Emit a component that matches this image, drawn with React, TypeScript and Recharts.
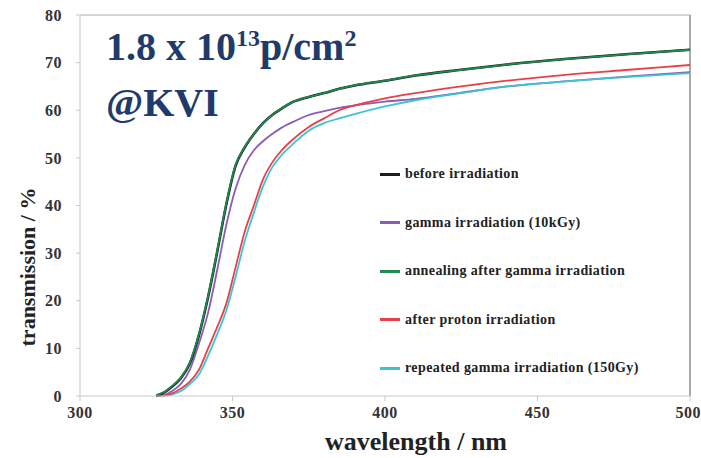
import React from "react";
import { LineChart, Line, XAxis, YAxis, ReferenceLine } from "recharts";

// wavelength grid (nm) shared by all curves
const wavelength = [325, 328, 330, 333, 336, 339, 342, 345, 348, 351, 354, 357, 360, 363, 366, 370, 375, 380, 385, 390, 400, 410, 425, 440, 460, 480, 500];

// transmission (%) per curve
const beforeIrradiation = [0, 0.9, 1.9, 3.7, 6.8, 12.8, 20.8, 30.3, 40.3, 48.3, 52.2, 55, 57.3, 59, 60.3, 61.8, 62.8, 63.6, 64.5, 65.2, 66.2, 67.3, 68.5, 69.6, 70.8, 71.8, 72.7];
const gammaIrradiation = [0, 0.3, 1, 2.5, 5.5, 11, 17.5, 26.5, 36, 43.5, 48.5, 51.6, 53.5, 55, 56.3, 57.6, 59, 59.8, 60.5, 61, 61.8, 62.4, 63.7, 65, 66.1, 67.1, 68];
const annealing = [0.2, 1, 2, 3.8, 7, 13, 21, 30.5, 40.5, 48.5, 52.3, 55, 57.3, 59, 60.3, 61.8, 62.8, 63.6, 64.5, 65.2, 66.2, 67.3, 68.5, 69.6, 70.8, 71.8, 72.7];
const afterProton = [0, 0.2, 0.5, 1.5, 3, 5.5, 10, 14.5, 19.5, 27, 34.5, 40, 45.5, 49, 51.5, 54, 56.5, 58.3, 60, 61, 62.5, 63.6, 65, 66.2, 67.5, 68.5, 69.5];
const repeatedGamma = [0, 0.1, 0.3, 1, 2.5, 4.5, 8.5, 13, 18, 25, 32.5, 38.5, 44, 48, 50.5, 53, 55.7, 57.3, 58.3, 59.2, 60.8, 62.1, 63.6, 65, 66.1, 67, 67.8];

const xTicks = [300, 350, 400, 450, 500];
const yTicks = [0, 10, 20, 30, 40, 50, 60, 70, 80];

const SERIES = [
  { key: "before", name: "before irradiation", color: "#1c1c1c" },
  { key: "gamma", name: "gamma irradiation (10kGy)", color: "#8a5cb8" },
  { key: "anneal", name: "annealing after gamma irradiation", color: "#1f8a4e" },
  { key: "proton", name: "after proton irradiation", color: "#e8404a" },
  { key: "repeat", name: "repeated gamma irradiation (150Gy)", color: "#3cc4d4" },
];

// draw order: cyan/red over purple, green over black
const DRAW_ORDER = ["gamma", "repeat", "proton", "before", "anneal"];

const data = wavelength.map((w, i) => ({
  w,
  before: beforeIrradiation[i],
  gamma: gammaIrradiation[i],
  anneal: annealing[i],
  proton: afterProton[i],
  repeat: repeatedGamma[i],
}));

const FONT = '"Liberation Serif", "Times New Roman", serif';

function LegendBox() {
  return (
    <div
      style={{
        position: "absolute",
        left: 380,
        top: 150,
        fontFamily: FONT,
        fontWeight: "bold",
        fontSize: 14,
        letterSpacing: 0.4,
        color: "#222",
      }}
    >
      {SERIES.map((s) => (
        <div key={s.key} style={{ display: "flex", alignItems: "center", height: 48.5, whiteSpace: "nowrap" }}>
          <span style={{ display: "inline-block", width: 20, height: 3, background: s.color, marginRight: 5 }} />
          <span>{s.name}</span>
        </div>
      ))}
    </div>
  );
}

export default function App() {
  const tickStyle = { fontSize: 16, fill: "#333", fontFamily: FONT, fontWeight: "bold", letterSpacing: 0.5 };
  const supStyle = { fontSize: 24, verticalAlign: "14px", lineHeight: 0 };
  return (
    <div style={{ position: "absolute", left: 0, top: 0, width: 701, height: 458, background: "#fff" }}>
      <LineChart width={701} height={458} data={data} margin={{ top: 15, right: 11, bottom: 22, left: 30 }}>
        <XAxis
          dataKey="w"
          type="number"
          domain={[300, 500]}
          ticks={xTicks}
          height={40}
          tick={tickStyle}
          tickSize={5}
          tickMargin={6}
          stroke="#c8c8c8"
          allowDataOverflow
        />
        <YAxis
          type="number"
          domain={[0, 80]}
          ticks={yTicks}
          width={50}
          tick={tickStyle}
          tickSize={4}
          tickMargin={14}
          stroke="#c8c8c8"
        />
        <ReferenceLine y={80} stroke="#c8c8c8" strokeWidth={1.5} />
        <ReferenceLine x={500} stroke="#8c8c8c" strokeWidth={1.5} />
        {DRAW_ORDER.map((k) => {
          const s = SERIES.find((x) => x.key === k)!;
          return (
            <Line
              key={k}
              dataKey={k}
              name={s.name}
              type="monotone"
              stroke={s.color}
              strokeWidth={k === "before" ? 2.6 : 1.8}
              dot={false}
              isAnimationActive={false}
            />
          );
        })}
      </LineChart>

      <LegendBox />

      {/* fluence annotation */}
      <div
        style={{
          position: "absolute",
          left: 106,
          top: 19,
          fontFamily: FONT,
          fontWeight: "bold",
          fontSize: 40,
          lineHeight: "56px",
          color: "#1f3b6c",
          whiteSpace: "nowrap",
        }}
      >
        <div>
          1.8 x 10<sup style={supStyle}>13</sup>p/cm<sup style={supStyle}>2</sup>
        </div>
        <div>@KVI</div>
      </div>

      {/* axis titles */}
      <div
        style={{
          position: "absolute",
          left: 416,
          top: 442,
          transform: "translate(-50%, -50%)",
          fontFamily: FONT,
          fontWeight: "bold",
          fontSize: 26,
          color: "#222",
          whiteSpace: "nowrap",
        }}
      >
        wavelength / nm
      </div>
      <div
        style={{
          position: "absolute",
          left: 28,
          top: 267,
          transform: "translate(-50%, -50%) rotate(-90deg)",
          fontFamily: FONT,
          fontWeight: "bold",
          fontSize: 22,
          color: "#222",
          whiteSpace: "nowrap",
        }}
      >
        transmission / %
      </div>
    </div>
  );
}
